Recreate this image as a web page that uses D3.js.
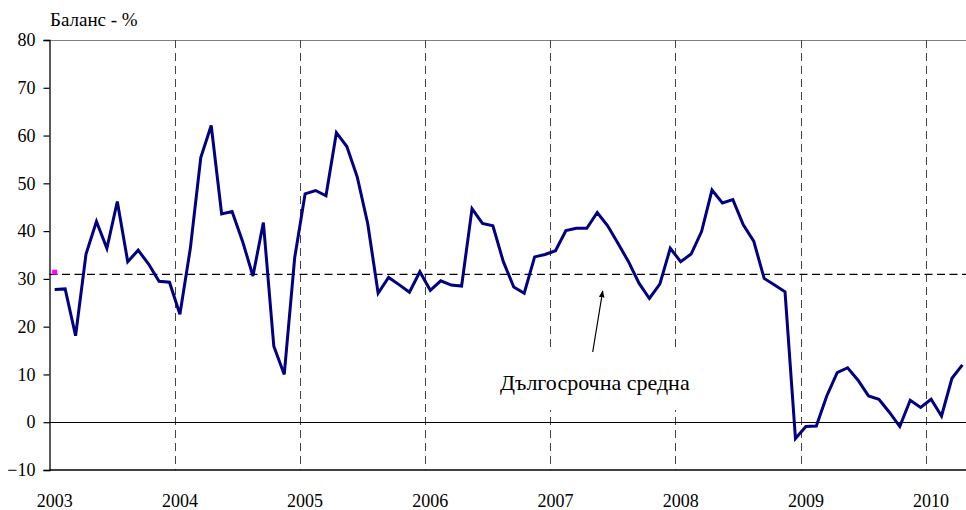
<!DOCTYPE html>
<html>
<head>
<meta charset="utf-8">
<script src="https://cdn.jsdelivr.net/npm/d3@7"></script>
<style>
html,body{margin:0;padding:0;background:#fff;}
svg{display:block;font-family:"Liberation Serif","Times New Roman",serif;}
</style>
</head>
<body>
<svg id="chart" width="966" height="510"></svg>
<script>
const years = ["2003","2004","2005","2006","2007","2008","2009","2010"];
const yTicks = [-10,0,10,20,30,40,50,60,70,80];
const balance2003 = [27.8, 27.9, 18.1, 35.2, 42.0, 36.4, 46.2, 33.6, 36.0, 33.1, 29.5, 29.3];
const balance2004 = [22.6, 36.4, 55.4, 62.1, 43.6, 44.1, 37.9, 30.6, 41.8, 15.9, 10.0, 34.4];
const balance2005 = [47.8, 48.5, 47.4, 60.6, 57.7, 51.3, 41.6, 27.0, 30.3, 28.8, 27.2, 31.5];
const balance2006 = [27.6, 29.6, 28.7, 28.5, 44.7, 41.6, 41.1, 33.6, 28.3, 27.0, 34.6, 35.1];
const balance2007 = [35.9, 40.1, 40.6, 40.6, 43.9, 41.1, 37.4, 33.6, 29.1, 25.9, 28.9, 36.4];
const balance2008 = [33.6, 35.2, 39.9, 48.6, 45.9, 46.6, 41.3, 37.9, 30.1, 28.7, 27.3, -3.4];
const balance2009 = [-0.9, -0.8, 5.5, 10.4, 11.4, 8.8, 5.5, 4.8, 2.1, -0.9, 4.6, 3.1];
const balance2010 = [4.8, 1.3, 9.2, 12.0];
const longTermAverage = 30.95;
const avgMarkerValue = 31.4;
const yTitle = "Баланс - %";
const avgLabel = "Дългосрочна средна";

const balance = [].concat(balance2003, balance2004, balance2005, balance2006,
                          balance2007, balance2008, balance2009, balance2010);
const nMonths = 88;

const svg = d3.select("#chart");
const mLeft = 49.5, mTop = 40, mBottom = 470, mRight = 966;

const x = d3.scaleLinear().domain([0, nMonths]).range([mLeft, 967.6]);
const y = d3.scaleLinear().domain([-10, 80]).range([mBottom, mTop]);

// top border
svg.append("line").attr("x1", mLeft).attr("x2", mRight).attr("y1", y(80)+0.5).attr("y2", y(80)+0.5)
  .attr("stroke", "#808080").attr("stroke-width", 1);

// vertical dashed year separators
years.slice(1).forEach((yr, k) => {
  const xx = Math.round(x(12*(k+1))) + 0.5;
  svg.append("line").attr("x1", xx).attr("x2", xx).attr("y1", y(80)).attr("y2", y(-10))
    .attr("stroke", "#444").attr("stroke-width", 1).attr("stroke-dasharray", "8,5");
});

// zero line
svg.append("line").attr("x1", mLeft).attr("x2", mRight)
  .attr("y1", Math.round(y(0))+0.5).attr("y2", Math.round(y(0))+0.5)
  .attr("stroke", "#000").attr("stroke-width", 1.2);

// long-term average dashed line
svg.append("line").attr("x1", mLeft).attr("x2", mRight)
  .attr("y1", y(longTermAverage)).attr("y2", y(longTermAverage))
  .attr("stroke", "#000").attr("stroke-width", 1.3).attr("stroke-dasharray", "8,4.5");

// label box (covers separators)
svg.append("rect").attr("x", 495).attr("y", 352).attr("width", 205).attr("height", 58).attr("fill", "#fff");
svg.append("text").attr("x", 500).attr("y", 390).attr("font-size", 22).attr("fill", "#000")
  .text(avgLabel);

// arrow
svg.append("defs").append("marker").attr("id", "ah").attr("viewBox", "0 0 10 10")
  .attr("refX", 9).attr("refY", 5).attr("markerWidth", 7).attr("markerHeight", 7)
  .attr("orient", "auto").attr("markerUnits", "userSpaceOnUse")
  .append("path").attr("d", "M0,1 L10,5 L0,9 Z").attr("fill", "#000");
svg.append("line").attr("x1", 592.7).attr("y1", 352).attr("x2", 602.7).attr("y2", 291)
  .attr("stroke", "#000").attr("stroke-width", 1.2).attr("marker-end", "url(#ah)");

// y axis
const yAxis = d3.axisLeft(y).tickValues(yTicks).tickSize(6).tickPadding(8).tickFormat(d3.format("d"));
const gy = svg.append("g").attr("transform", `translate(${mLeft},0)`).call(yAxis);
gy.select(".domain").attr("stroke", "#000").attr("stroke-width", 1.3);
gy.selectAll(".tick line").attr("stroke", "#000").attr("stroke-width", 1.2);
gy.selectAll(".tick text").attr("font-size", 18).attr("font-family", "Liberation Serif").attr("fill", "#000");

// bottom line
svg.append("line").attr("x1", mLeft).attr("x2", mRight).attr("y1", y(-10)).attr("y2", y(-10))
  .attr("stroke", "#000").attr("stroke-width", 1.3);

// x labels
svg.append("g").selectAll("text").data(years).join("text")
  .attr("x", (d, k) => x(12*k + 0.5)).attr("y", 507).attr("text-anchor", "middle")
  .attr("font-size", 18).attr("fill", "#000").text(d => d);

// title
svg.append("text").attr("x", 50).attr("y", 26).attr("font-size", 19).attr("fill", "#000").text(yTitle);

// data line
const line = d3.line().x((d, i) => x(i + 0.5)).y(d => y(d));
svg.append("path").datum(balance).attr("d", line).attr("fill", "none")
  .attr("stroke", "#000080").attr("stroke-width", 3).attr("stroke-linejoin", "miter");

// pink marker of the average series
svg.append("rect").attr("x", x(0.5) - 2.5).attr("y", y(avgMarkerValue) - 2.5)
  .attr("width", 5).attr("height", 5).attr("fill", "#ff00ff");
</script>
</body>
</html>
